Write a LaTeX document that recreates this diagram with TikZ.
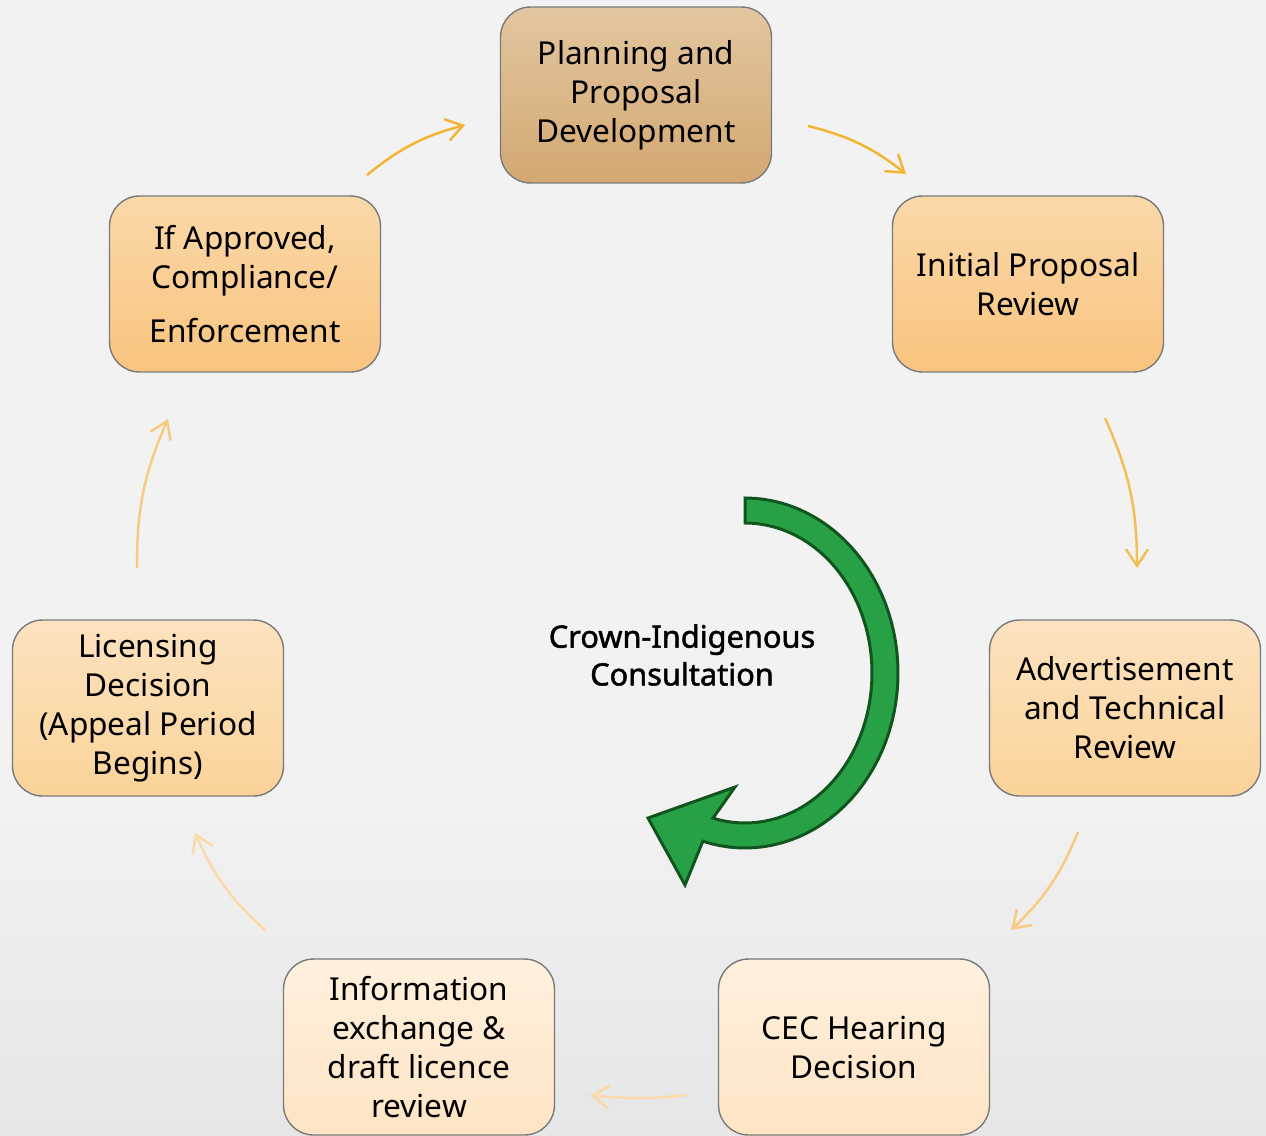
\documentclass[tikz,border=0pt]{standalone}
\usepackage{fontspec}
\setmainfont{Noto Sans}
\newfontfamily\crownfont[FakeBold=1.6]{Noto Sans}
\usepackage{tikz}
\usetikzlibrary{arrows.meta}
\definecolor{bgc}{HTML}{F2F2F2}
\definecolor{bgdark}{HTML}{E6E6E6}
\definecolor{boxline}{HTML}{7A7A7A}
\definecolor{tanTop}{HTML}{E3C6A0}
\definecolor{tanBot}{HTML}{D3A872}
\definecolor{orTop}{HTML}{FAD8A9}
\definecolor{orBot}{HTML}{F9C47E}
\definecolor{ltTop}{HTML}{FCE2C0}
\definecolor{ltBot}{HTML}{FBD399}
\definecolor{paleTop}{HTML}{FFF0DE}
\definecolor{paleBot}{HTML}{FEE4C4}
\definecolor{arrA}{HTML}{F3B431}
\definecolor{arrB}{HTML}{F5BE55}
\definecolor{arrC}{HTML}{F8CA80}
\definecolor{arrD}{HTML}{FCD9A8}
\definecolor{leaf}{HTML}{28A046}
\definecolor{leafline}{HTML}{10551E}

\begin{document}
\begin{tikzpicture}[x=0.02cm,y=-0.02cm,
  stage/.style={draw=boxline, line width=0.8pt, rounded corners=0.6cm,
    minimum width=5.42cm, minimum height=3.52cm, inner sep=0pt,
    align=center, font=\fontsize{18}{22.2}\selectfont},
  flow/.style={line width=1.4pt, -{Straight Barb[length=3.3mm,width=4.4mm]}},
  consult/.style={fill=leaf, draw=leafline, line width=1.7pt, line join=miter}]
\useasboundingbox (0,0) rectangle (1266,1135);
\fill [bgc] (0,0) rectangle (1266,1135);
\shade [top color=bgc, bottom color=bgdark] (0,780) rectangle (1266,1135);

\node [stage, top color=tanTop, bottom color=tanBot] (plan) at (636,95) {Planning and\\Proposal\\Development};
\node [stage, top color=orTop, bottom color=orBot] (init) at (1028,284) {Initial Proposal\\Review};
\node [stage, top color=ltTop, bottom color=ltBot] (advert) at (1125,708) {Advertisement\\and Technical\\Review};
\node [stage, top color=paleTop, bottom color=paleBot] (cec) at (854,1047) {CEC Hearing\\Decision};
\node [stage, top color=paleTop, bottom color=paleBot] (info) at (419,1047) {Information\\exchange \&\\draft licence\\review};
\node [stage, top color=ltTop, bottom color=ltBot] (licence) at (148,708) {Licensing\\Decision\\(Appeal Period\\Begins)};
\node [stage, top color=orTop, bottom color=orBot] (approve) at (245,284) {If Approved,\\Compliance/\\[9pt]Enforcement};

\coordinate (s1) at (367,175);  \coordinate (e1) at (465,125);
\coordinate (s2) at (808,126);  \coordinate (e2) at (906,174);
\coordinate (s3) at (1105,418); \coordinate (e3) at (1137,568);
\coordinate (s4) at (1078,832); \coordinate (e4) at (1011,930);
\coordinate (s5) at (687,1095); \coordinate (e5) at (590,1095);
\coordinate (s6) at (265,930);  \coordinate (e6) at (195,833);
\coordinate (s7) at (137,568);  \coordinate (e7) at (168,419);

\draw [flow, arrA] (s1) to [bend left=12] (e1);
\draw [flow, arrA] (s2) to [bend left=12] (e2);
\draw [flow, arrB] (s3) to [bend left=12] (e3);
\draw [flow, arrC] (s4) to [bend left=12] (e4);
\draw [flow, arrD] (s5) to [bend left=6] (e5);
\draw [flow, arrD] (s6) to [bend left=12] (e6);
\draw [flow, arrC] (s7) to [bend left=12] (e7);

\draw [consult] plot [domain=-90:106, samples=60, variable=\t] ({745+153*cos(\t)},{673+175*sin(\t)})
  -- (685,885) -- (648,818) -- (735,787)
  -- plot [domain=104.6:-90, samples=60, variable=\t] ({745+127*cos(\t)},{673+150*sin(\t)}) -- cycle;

\node [font=\crownfont\fontsize{17.5}{21.5}\selectfont, align=center] (crown) at (682,655) {Crown-Indigenous\\Consultation};
\end{tikzpicture}
\end{document}
